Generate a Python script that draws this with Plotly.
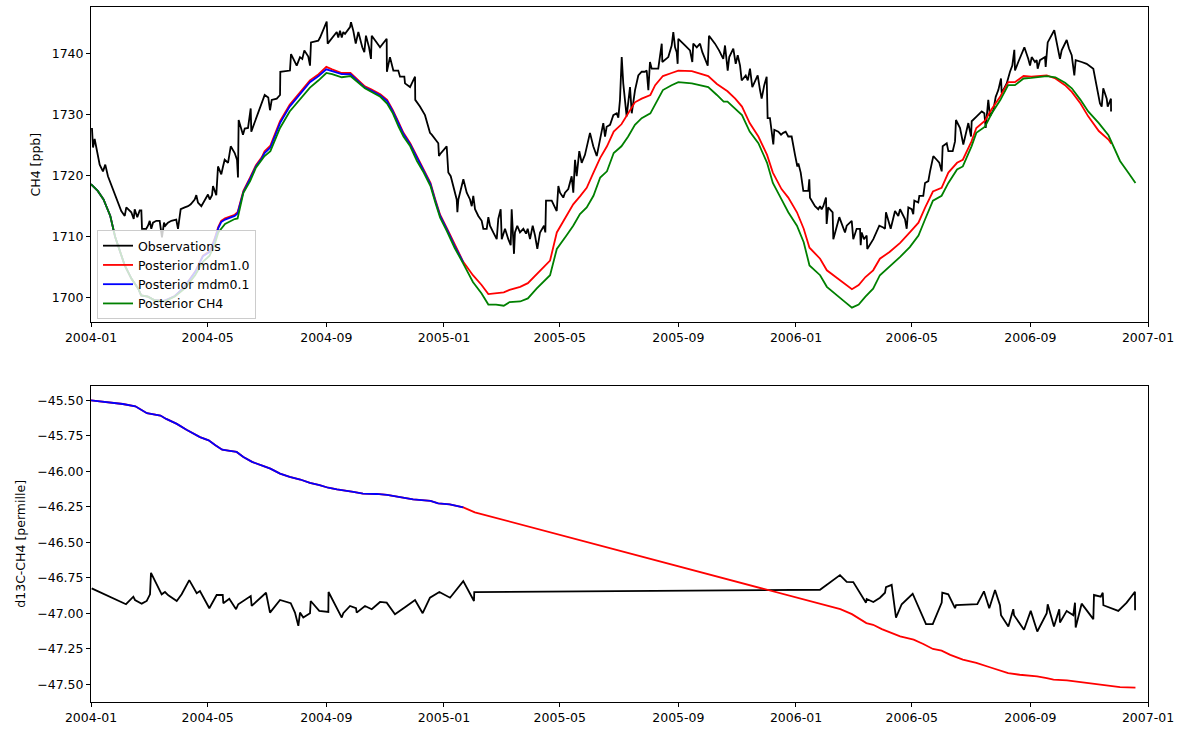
import numpy as np
import pandas as pd
import plotly.graph_objects as go
from plotly.subplots import make_subplots

START = pd.Timestamp("2004-01-01")

# ---------------- top panel: CH4 [ppb] ----------------
# observation times (days since 2004-01-01) and values
obs_day = [1.0, 2.1, 3.8, 9.0, 12.4, 14.8, 17.6, 22.8, 28.0, 31.4,
           35.0, 36.6, 41.8, 44.3, 45.3, 48.0, 50.5, 52.2, 52.9, 57.3,
           59.1, 60.9, 62.5, 64.3, 67.7, 71.2, 73.6, 75.7, 77.0, 79.8,
           83.3, 88.4, 90.2, 93.0, 97.2, 100.6, 103.4, 107.5, 109.2, 110.9,
           114.4, 117.9, 121.3, 123.1, 125.5, 126.5, 129.9, 131.7, 135.1, 136.9,
           138.6, 142.1, 144.9, 149.0, 151.4, 152.4, 153.1, 157.6, 159.4, 162.8,
           165.6, 166.2, 171.4, 176.6, 180.1, 183.8, 185.6, 187.4, 192.6, 196.0,
           196.3, 206.3, 207.4, 213.3, 216.7, 219.1, 221.2, 225.3, 227.1, 228.1,
           235.7, 237.5, 244.4, 245.4, 249.6, 254.8, 256.4, 258.2, 260.0, 261.6,
           263.4, 268.6, 269.6, 272.0, 274.5, 277.2, 281.3, 283.4, 285.1, 288.3,
           290.3, 291.1, 296.2, 299.7, 306.6, 306.8, 310.0, 313.5, 318.6, 320.4,
           324.9, 325.6, 330.8, 336.0, 336.2, 341.1, 346.3, 349.8, 351.5, 353.3,
           360.1, 360.8, 361.9, 368.8, 370.5, 373.0, 375.7, 379.2, 379.9, 380.9,
           386.1, 389.6, 393.0, 394.8, 396.4, 398.2, 401.6, 405.1, 406.8, 410.3,
           412.0, 413.7, 417.1, 420.7, 422.3, 424.8, 425.9, 429.3, 432.7, 435.2,
           436.2, 438.6, 439.6, 442.0, 444.8, 448.3, 451.1, 452.8, 455.2, 458.0,
           460.4, 462.8, 465.6, 469.7, 471.1, 471.8, 477.7, 482.9, 484.6, 486.3,
           489.7, 491.5, 494.9, 498.4, 500.1, 501.9, 503.6, 506.3, 508.8, 512.2,
           517.4, 520.8, 524.4, 527.8, 531.2, 533.0, 534.7, 538.2, 541.6, 545.1,
           546.8, 548.5, 550.3, 551.9, 555.4, 558.9, 560.7, 564.1, 567.5, 571.0,
           574.4, 576.2, 577.9, 579.6, 581.4, 588.2, 591.8, 592.4, 598.6, 602.1,
           603.8, 605.6, 607.3, 608.3, 609.0, 615.9, 621.1, 623.5, 624.5, 628.1,
           631.5, 633.9, 639.5, 640.8, 647.0, 651.2, 655.6, 657.4, 660.2, 661.8,
           666.0, 668.5, 670.6, 673.0, 674.7, 676.4, 678.9, 681.0, 683.3, 685.7,
           688.5, 691.3, 693.7, 695.4, 698.1, 700.6, 701.6, 704.0, 707.5, 708.5,
           712.7, 715.5, 717.8, 720.3, 723.0, 726.5, 730.0, 732.4, 733.5, 735.9,
           738.6, 743.8, 744.8, 745.5, 750.7, 754.1, 755.9, 757.6, 759.3, 762.1,
           762.8, 764.4, 769.0, 769.7, 775.9, 781.8, 783.6, 788.8, 790.4, 793.9,
           797.4, 798.1, 799.1, 801.5, 804.3, 804.9, 811.2, 817.4, 821.5, 823.3,
           824.3, 827.8, 829.2, 833.7, 837.1, 838.9, 844.0, 845.8, 847.5, 851.0,
           852.6, 853.7, 857.8, 858.9, 863.0, 864.8, 868.2, 870.0, 873.4, 876.9,
           879.6, 882.1, 883.1, 887.3, 889.0, 893.5, 895.9, 896.9, 901.1, 904.5,
           908.0, 909.7, 912.5, 913.2, 918.4, 923.6, 926.3, 927.7, 930.4, 932.2,
           935.6, 938.1, 940.8, 943.6, 944.3, 949.5, 952.9, 955.3, 957.4, 958.1,
           961.5, 967.8, 971.9, 973.7, 975.4, 978.8, 980.6, 981.6, 984.0, 989.2,
           989.9, 992.0, 998.8, 1003.0, 1004.7, 1006.5, 1011.7, 1014.1, 1016.9, 1019.6,
           1021.0, 1027.2, 1032.4, 1039.3, 1042.8, 1046.2, 1048.0, 1049.6, 1053.2, 1054.2,
           1057.6, 1057.7]
obs_ch4 = [1727.8, 1724.6, 1726.0, 1721.8, 1720.7, 1721.8, 1719.9, 1717.8, 1715.6, 1714.2,
           1713.4, 1714.8, 1714.0, 1712.9, 1714.5, 1713.2, 1714.3, 1714.3, 1711.3, 1711.3,
           1711.8, 1712.6, 1711.3, 1712.3, 1712.6, 1712.6, 1709.9, 1712.3, 1711.8, 1712.3,
           1712.6, 1712.8, 1711.3, 1714.5, 1714.8, 1715.0, 1715.3, 1716.1, 1716.8, 1715.6,
           1715.0, 1716.1, 1716.9, 1716.1, 1716.8, 1718.3, 1716.8, 1721.5, 1720.2, 1721.5,
           1722.6, 1722.1, 1724.8, 1723.7, 1722.6, 1719.7, 1729.1, 1726.7, 1727.7, 1727.8,
           1731.0, 1727.2, 1729.4, 1731.8, 1733.2, 1732.8, 1730.7, 1732.4, 1732.6, 1733.2,
           1737.0, 1737.2, 1739.9, 1738.0, 1739.4, 1739.1, 1740.5, 1739.5, 1738.0, 1741.8,
           1742.1, 1742.6, 1745.2, 1741.6, 1742.4, 1743.5, 1742.6, 1743.7, 1742.6, 1743.5,
           1743.2, 1744.3, 1745.1, 1743.7, 1741.6, 1743.5, 1741.0, 1740.2, 1742.9, 1741.0,
           1739.1, 1742.9, 1741.8, 1741.0, 1742.4, 1737.0, 1739.4, 1737.2, 1737.2, 1736.2,
           1736.2, 1735.1, 1734.5, 1736.2, 1732.4, 1731.3, 1729.9, 1728.0, 1727.0, 1726.7,
           1725.3, 1723.2, 1723.5, 1724.8, 1720.5, 1719.9, 1718.3, 1716.1, 1714.0, 1716.1,
           1719.4, 1717.2, 1716.1, 1715.0, 1716.7, 1714.5, 1713.4, 1712.6, 1711.3, 1711.3,
           1713.2, 1711.8, 1710.7, 1709.6, 1712.9, 1714.5, 1709.6, 1711.3, 1709.6, 1708.6,
           1714.5, 1707.2, 1710.7, 1711.8, 1710.7, 1711.3, 1710.5, 1711.3, 1709.6, 1711.8,
           1710.2, 1708.0, 1710.7, 1711.8, 1710.7, 1715.9, 1715.9, 1714.2, 1718.3, 1717.2,
           1716.4, 1717.2, 1717.8, 1719.9, 1717.2, 1722.6, 1719.9, 1724.0, 1722.1, 1723.4,
           1727.0, 1724.8, 1723.2, 1725.9, 1728.6, 1726.4, 1728.0, 1728.3, 1729.9, 1730.2,
           1729.5, 1732.4, 1739.4, 1735.1, 1729.7, 1734.5, 1730.2, 1734.0, 1736.4, 1737.0,
           1737.0, 1737.2, 1734.0, 1738.6, 1737.5, 1737.5, 1741.6, 1738.6, 1739.4, 1741.3,
           1743.5, 1741.0, 1740.2, 1738.3, 1742.4, 1741.3, 1740.5, 1738.6, 1741.6, 1741.0,
           1741.6, 1740.2, 1738.0, 1742.9, 1741.6, 1740.5, 1739.1, 1741.3, 1737.2, 1739.4,
           1740.8, 1738.3, 1739.7, 1738.0, 1735.6, 1735.9, 1736.4, 1735.6, 1737.5, 1734.5,
           1735.4, 1736.4, 1734.0, 1732.6, 1734.8, 1736.2, 1729.4, 1729.4, 1725.1, 1727.5,
           1727.2, 1726.7, 1727.0, 1727.2, 1726.4, 1726.4, 1723.4, 1721.5, 1722.0, 1720.5,
           1717.5, 1717.5, 1719.4, 1716.4, 1715.0, 1714.5, 1715.0, 1714.5, 1715.0, 1716.4,
           1712.1, 1714.8, 1714.0, 1709.6, 1713.2, 1710.7, 1711.8, 1712.6, 1709.6, 1711.3,
           1711.3, 1708.6, 1710.7, 1709.6, 1710.2, 1708.0, 1709.6, 1711.8, 1711.5, 1711.3,
           1714.0, 1712.3, 1711.3, 1714.2, 1713.4, 1714.5, 1712.9, 1711.3, 1714.8, 1714.5,
           1713.7, 1715.9, 1715.6, 1716.7, 1716.7, 1718.8, 1719.1, 1720.7, 1723.2, 1722.6,
           1722.1, 1720.7, 1724.8, 1725.3, 1724.0, 1724.0, 1725.6, 1729.1, 1727.8, 1725.1,
           1727.2, 1728.6, 1726.4, 1728.9, 1729.7, 1730.5, 1730.2, 1727.8, 1732.4, 1729.7,
           1730.7, 1732.9, 1734.0, 1735.9, 1733.5, 1735.1, 1737.0, 1738.0, 1740.6, 1737.2,
           1738.6, 1741.0, 1739.1, 1738.0, 1739.4, 1738.6, 1738.9, 1737.5, 1738.9, 1739.4,
           1737.8, 1741.8, 1743.8, 1740.8, 1739.1, 1740.5, 1742.2, 1740.8, 1739.7, 1736.4,
           1738.9, 1738.6, 1738.3, 1737.5, 1734.5, 1731.8, 1731.3, 1734.3, 1732.6, 1731.3,
           1732.6, 1730.5]

# model output times (days since 2004-01-01)
mod_day = [0, 7, 13, 20, 25, 35, 42, 49, 52, 59,
           66, 76, 87, 97, 108, 116, 123, 128, 132, 135,
           139, 149, 152, 158, 165, 171, 177, 180, 186, 196,
           206, 217, 227, 236, 244, 250, 260, 269, 276, 284,
           291, 300, 307, 313, 319, 324, 331, 338, 345, 352,
           357, 362, 369, 377, 386, 396, 405, 412, 420, 428,
           434, 445, 453, 462, 476, 483, 493, 500, 507, 514,
           521, 528, 535, 542, 550, 557, 564, 571, 580, 585,
           593, 602, 609, 623, 633, 640, 649, 656, 660, 668,
           675, 683, 692, 701, 707, 716, 723, 732, 739, 745,
           756, 763, 773, 782, 789, 796, 803, 811, 818, 828,
           839, 849, 858, 865, 873, 882, 889, 898, 904, 913,
           918, 927, 934, 943, 951, 958, 967, 975, 984, 991,
           1000, 1010, 1017, 1026, 1034, 1045, 1055, 1058, 1067, 1076,
           1083]
post_ch4 = [1718.6, 1717.5, 1716.1, 1713.4, 1710.0, 1705.3, 1703.1, 1701.5, 1700.4, 1700.2,
            1699.6, 1699.4, 1700.2, 1701.5, 1703.7, 1705.9, 1706.9, 1708.6, 1710.7, 1711.3,
            1712.1, 1712.9, 1713.0, 1717.2, 1719.1, 1721.3, 1722.6, 1723.2, 1724.0, 1727.8,
            1730.5, 1732.6, 1734.4, 1735.6, 1736.8, 1736.6, 1736.1, 1736.3, 1735.3, 1734.3,
            1733.7, 1732.9, 1731.8, 1730.2, 1728.0, 1726.4, 1724.8, 1722.4, 1720.5, 1718.3,
            1715.6, 1713.1, 1710.9, 1708.2, 1705.6, 1702.6, 1700.7, 1698.9, 1698.9, 1698.7,
            1699.3, 1699.4, 1699.9, 1701.5, 1703.7, 1708.0, 1710.2, 1711.8, 1713.7, 1714.8,
            1716.7, 1719.7, 1720.7, 1723.7, 1724.8, 1726.4, 1728.3, 1729.4, 1730.2, 1731.6,
            1734.0, 1734.8, 1735.3, 1735.1, 1734.7, 1734.5, 1733.2, 1732.1, 1732.1, 1731.0,
            1729.9, 1727.2, 1725.3, 1722.1, 1718.8, 1716.1, 1714.0, 1711.8, 1709.1, 1705.3,
            1703.7, 1701.8, 1700.4, 1699.3, 1698.4, 1698.9, 1700.2, 1701.5, 1703.7, 1705.1,
            1706.7, 1708.3, 1710.2, 1712.9, 1715.9, 1716.7, 1718.8, 1721.0, 1721.5, 1724.8,
            1727.0, 1728.0, 1730.2, 1732.4, 1734.8, 1734.8, 1735.9, 1736.0, 1736.2, 1736.3,
            1736.1, 1735.2, 1734.3, 1732.4, 1730.5, 1728.6, 1726.6, 1725.6, 1722.4, 1720.4,
            1718.8]
post_mdm10 = [1718.6, 1717.5, 1716.1, 1713.4, 1710.0, 1705.3, 1703.1, 1701.5, 1700.4, 1700.2,
              1699.6, 1699.5, 1700.3, 1701.8, 1704.3, 1706.9, 1707.6, 1709.6, 1711.6, 1712.6,
              1713.0, 1713.6, 1714.0, 1717.5, 1719.7, 1721.7, 1723.0, 1724.0, 1724.9, 1728.9,
              1731.6, 1733.7, 1735.6, 1736.6, 1737.8, 1737.4, 1736.8, 1736.8, 1735.7, 1734.6,
              1734.1, 1733.3, 1732.4, 1730.7, 1728.7, 1727.0, 1725.3, 1723.1, 1721.0, 1718.8,
              1716.1, 1713.6, 1711.4, 1708.7, 1705.9, 1703.7, 1702.1, 1700.6, 1700.7, 1700.9,
              1701.3, 1701.8, 1702.4, 1703.8, 1706.1, 1710.7, 1713.4, 1715.3, 1716.6, 1718.0,
              1720.5, 1722.9, 1724.8, 1727.2, 1728.4, 1730.2, 1732.0, 1732.6, 1733.2, 1734.8,
              1736.3, 1736.8, 1737.2, 1737.1, 1736.6, 1736.3, 1735.0, 1734.2, 1733.8, 1732.6,
              1731.3, 1728.6, 1726.4, 1723.4, 1720.5, 1717.8, 1716.4, 1714.0, 1711.3, 1708.2,
              1706.4, 1704.5, 1703.3, 1702.1, 1701.4, 1702.1, 1703.4, 1704.5, 1706.4, 1707.5,
              1709.0, 1710.7, 1712.3, 1714.8, 1717.4, 1718.0, 1720.5, 1722.1, 1722.6, 1725.6,
              1727.8, 1729.0, 1730.9, 1733.0, 1735.3, 1735.3, 1736.3, 1736.2, 1736.3, 1736.4,
              1735.9, 1734.8, 1733.7, 1731.8, 1729.7, 1727.3, 1725.9, 1725.2, None, None,
              None]
post_mdm01 = [1718.6, 1717.5, 1716.1, 1713.4, 1710.0, 1705.3, 1703.1, 1701.5, 1700.4, 1700.2,
              1699.6, 1699.5, 1700.3, 1701.8, 1704.2, 1706.8, 1707.5, 1709.4, 1711.4, 1712.4,
              1712.8, 1713.4, 1713.8, 1717.3, 1719.5, 1721.5, 1722.8, 1723.7, 1724.6, 1728.6,
              1731.3, 1733.4, 1735.3, 1736.3, 1737.4, 1737.1, 1736.6, 1736.6, 1735.5, 1734.4,
              1733.9, 1733.1, 1732.2, 1730.5, 1728.5, 1726.8, 1725.1, 1722.9, 1720.8, 1718.6,
              1715.9, 1713.4, 1711.2, 1708.5, 1705.8, None, None, None, None, None,
              None, None, None, None, None, None, None, None, None, None,
              None, None, None, None, None, None, None, None, None, None,
              None, None, None, None, None, None, None, None, None, None,
              None, None, None, None, None, None, None, None, None, None,
              None, None, None, None, None, None, None, None, None, None,
              None, None, None, None, None, None, None, None, None, None,
              None, None, None, None, None, None, None, None, None, None,
              None, None, None, None, None, None, None, None, None, None,
              None]

# ---------------- bottom panel: d13C-CH4 [permille] ----------------
bobs_day = [0.7, 36.3, 43.9, 45.6, 52.6, 57.8, 61.2, 62.2, 73.3, 76.7,
            80.2, 88.9, 94.0, 101.9, 109.6, 113.0, 122.7, 130.3, 136.6, 137.2,
            143.4, 150.4, 152.7, 165.6, 166.6, 181.5, 185.6, 196.0, 207.1, 211.5,
            215.0, 216.7, 220.1, 227.1, 227.8, 236.7, 246.1, 246.3, 260.0, 261.6,
            268.6, 274.8, 275.5, 284.1, 291.1, 299.7, 306.6, 315.2, 327.4, 336.0,
            343.9, 351.5, 361.2, 372.3, 386.0, 397.1, 397.4, 755.9, 776.6, 783.6,
            790.4, 800.8, 803.6, 804.3, 811.2, 818.1, 823.3, 824.3, 830.2, 834.7,
            840.6, 852.0, 865.8, 872.8, 882.1, 882.7, 888.9, 895.9, 896.9, 919.0,
            925.9, 931.4, 937.4, 942.5, 943.6, 951.2, 956.3, 957.1, 967.4, 974.4,
            981.2, 991.0, 992.0, 998.5, 1004.0, 1004.7, 1011.7, 1018.5, 1020.3, 1021.0,
            1027.2, 1039.3, 1040.0, 1047.0, 1049.1, 1049.7, 1065.2, 1073.9, 1082.5, 1082.6]
bobs_d13c = [-46.825, -46.937, -46.884, -46.907, -46.933, -46.914, -46.867, -46.716, -46.867, -46.851,
             -46.874, -46.914, -46.867, -46.767, -46.860, -46.844, -46.965, -46.872, -46.872, -46.930,
             -46.898, -46.972, -46.937, -46.879, -46.949, -46.856, -46.996, -46.907, -46.930, -46.996,
             -47.089, -46.996, -47.031, -47.000, -46.914, -46.984, -46.991, -46.851, -47.031, -47.000,
             -46.949, -46.965, -46.996, -46.949, -46.972, -46.921, -46.926, -47.007, -46.949, -46.907,
             -47.000, -46.891, -46.851, -46.891, -46.774, -46.914, -46.851, -46.835, -46.732, -46.779,
             -46.781, -46.898, -46.926, -46.900, -46.921, -46.891, -46.856, -46.816, -46.800, -47.031,
             -46.937, -46.863, -47.077, -47.077, -46.926, -46.856, -46.867, -46.965, -46.944, -46.937,
             -46.846, -46.965, -46.837, -46.944, -47.014, -47.094, -46.972, -47.014, -47.117, -46.984,
             -47.129, -47.000, -46.937, -47.094, -46.972, -47.066, -46.984, -47.014, -46.926, -47.101,
             -46.933, -47.042, -46.872, -46.884, -46.856, -46.944, -46.984, -46.926, -46.849, -46.979]

bmod_day = [0, 33, 46, 51, 58, 72, 78, 89, 99, 113,
            122, 129, 136, 144, 151, 158, 167, 179, 186, 196,
            206, 217, 227, 237, 246, 255, 265, 272, 282, 296,
            307, 320, 334, 352, 360, 372, 386, 398, 756, 777,
            789, 804, 811, 820, 839, 853, 863, 873, 882, 891,
            904, 918, 932, 943, 951, 963, 981, 991, 998, 1012,
            1025, 1039, 1053, 1067, 1083]
bmod_mdm10 = [-45.500, -45.526, -45.542, -45.561, -45.591, -45.607, -45.631, -45.666, -45.708, -45.759,
              -45.782, -45.817, -45.848, -45.857, -45.864, -45.899, -45.934, -45.964, -45.981, -46.016,
              -46.039, -46.058, -46.081, -46.097, -46.116, -46.128, -46.137, -46.146, -46.158, -46.160,
              -46.167, -46.184, -46.198, -46.209, -46.226, -46.233, -46.254, -46.289, -46.937, -46.972,
              -47.007, -47.070, -47.082, -47.112, -47.164, -47.187, -47.217, -47.252, -47.264, -47.294,
              -47.327, -47.350, -47.381, -47.404, -47.423, -47.434, -47.446, -47.458, -47.469, -47.474,
              -47.486, -47.497, -47.509, -47.521, -47.525]
bmod_mdm01 = [-45.500, -45.526, -45.542, -45.561, -45.591, -45.607, -45.631, -45.666, -45.708, -45.759,
              -45.782, -45.817, -45.848, -45.857, -45.864, -45.899, -45.934, -45.964, -45.981, -46.016,
              -46.039, -46.058, -46.081, -46.097, -46.116, -46.128, -46.137, -46.146, -46.158, -46.160,
              -46.167, -46.184, -46.198, -46.209, -46.226, -46.233, -46.254, None, None, None,
              None, None, None, None, None, None, None, None, None, None,
              None, None, None, None, None, None, None, None, None, None,
              None, None, None, None, None]

names = ["Observations", "Posterior mdm1.0", "Posterior mdm0.1", "Posterior CH4"]
colors = ["#000000", "#ff0000", "#0000ff", "#008000"]


def to_dates(days):
    return START + pd.to_timedelta(np.asarray(days, dtype=float), unit="D")


def vals(v):
    return np.array([np.nan if x is None else x for x in v], dtype=float)


fig = make_subplots(rows=2, cols=1, vertical_spacing=0.0)
LW = 1.8

top_series = [(obs_day, obs_ch4), (mod_day, post_mdm10), (mod_day, post_mdm01), (mod_day, post_ch4)]
for (d, v), n, c in zip(top_series, names, colors):
    fig.add_trace(go.Scatter(x=to_dates(d), y=vals(v), mode="lines", name=n,
                             line=dict(color=c, width=LW)), row=1, col=1)

bot_series = [(bobs_day, bobs_d13c), (bmod_day, bmod_mdm10), (bmod_day, bmod_mdm01)]
for (d, v), n, c in zip(bot_series, names[:3], colors[:3]):
    fig.add_trace(go.Scatter(x=to_dates(d), y=vals(v), mode="lines", name=n, showlegend=False,
                             line=dict(color=c, width=LW)), row=2, col=1)

FONT = "DejaVu Sans"
FS = 12.5
axis_common = dict(showline=True, mirror=True, linecolor="#000000", linewidth=1,
                   ticks="outside", ticklen=4, tickcolor="#000000", tickwidth=1,
                   showgrid=False, zeroline=False,
                   tickfont=dict(family=FONT, size=FS, color="#000000"))
xcommon = dict(axis_common, type="date", range=["2004-01-01", "2007-01-01"],
               tick0="2004-01-01", dtick="M4", tickformat="%Y-%m")

fig.update_layout(
    width=1198, height=731,
    paper_bgcolor="white", plot_bgcolor="white",
    margin=dict(l=91, r=50, t=6, b=24),
    font=dict(family=FONT, size=FS, color="#000000"),
    xaxis=dict(xcommon, domain=[0, 1], anchor="y"),
    xaxis2=dict(xcommon, domain=[0, 1], anchor="y2"),
    yaxis=dict(axis_common, domain=[0.5464, 1.0], range=[1696.0, 1747.6],
               tick0=1700, dtick=10,
               title=dict(text="CH4 [ppb]", standoff=8, font=dict(family=FONT, size=FS))),
    yaxis2=dict(axis_common, domain=[0.0, 0.4551], range=[-47.626, -45.397],
                tick0=-45.5, dtick=0.25, tickformat=".2f",
                title=dict(text="d13C-CH4 [permille]", standoff=8, font=dict(family=FONT, size=FS))),
    legend=dict(x=0.0057, y=0.551, xanchor="left", yanchor="bottom",
                bgcolor="rgba(255,255,255,0.8)", bordercolor="#cccccc", borderwidth=1,
                font=dict(family=FONT, size=FS, color="#000000"),
                itemwidth=30, tracegroupgap=0),
    showlegend=True,
)

fig.write_html("out.html", config={"displayModeBar": False},
               post_script="document.body.style.margin='0';document.body.style.overflow='hidden';")
